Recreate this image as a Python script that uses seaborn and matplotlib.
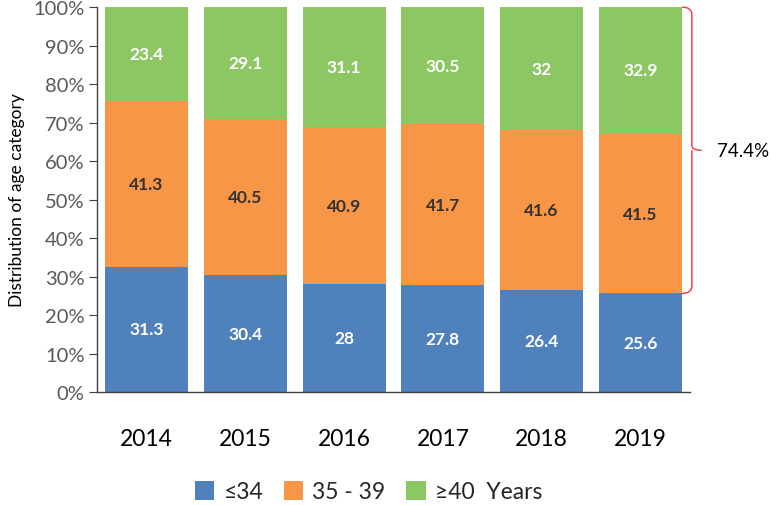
import matplotlib
matplotlib.use("Agg")
import matplotlib.pyplot as plt
import numpy as np
import pandas as pd
import seaborn as sns
from matplotlib.path import Path
from matplotlib.patches import PathPatch

years = ["2014", "2015", "2016", "2017", "2018", "2019"]
young = [31.3, 30.4, 28, 27.8, 26.4, 25.6]      # <=34
middle = [41.3, 40.5, 40.9, 41.7, 41.6, 41.5]   # 35 - 39
old = [23.4, 29.1, 31.1, 30.5, 32, 32.9]        # >=40
group_names = ["\u226434", "35 - 39", "\u226540  Years"]
colors = ["#4F81BD", "#F79646", "#8DC764"]
label_colors = ["white", "#333333", "white"]

sns.set_style("white")
plt.rcParams["font.family"] = ["Lato", "DejaVu Sans"]

df = pd.DataFrame({"year": years, "young": young, "middle": middle, "old": old})
cols = ["young", "middle", "old"]
total = df[cols].sum(axis=1)
share = df[cols].div(total, axis=0) * 100
cum = share.cumsum(axis=1)

fig = plt.figure(figsize=(7.71, 5.06), dpi=100)
ax = fig.add_axes([0.1258, 0.2233, 0.769, 0.7607])

# draw from the top stack down so lower layers sit in front
for i in [2, 1, 0]:
    sns.barplot(x=df["year"], y=cum[cols[i]], color=colors[i], width=0.84,
                saturation=1, ax=ax, label=group_names[i], linewidth=0,
                edgecolor=colors[i])

for j in range(len(years)):
    for i, c in enumerate(cols):
        mid = cum[c].iloc[j] - share[c].iloc[j] / 2
        v = df[c].iloc[j]
        ax.text(j, mid, f"{v:g}", ha="center", va="center", fontsize=12.5,
                fontweight="bold", color=label_colors[i])

ax.set_ylim(0, 100)
ax.set_xlim(-0.5, len(years) - 0.5)
ax.set_yticks(np.arange(0, 101, 10))
ax.set_yticklabels([f"{t}%" for t in range(0, 101, 10)], fontsize=14.5, color="#595959")
ax.set_ylabel("Distribution of age category", fontsize=12.5, color="black", labelpad=6)
ax.set_xlabel("")
ax.set_xticks(range(len(years)))
ax.set_xticklabels(years, fontsize=16.5, color="black")
ax.tick_params(axis="x", length=0, pad=26)
ax.set_xticks(np.arange(-0.5, len(years), 1), minor=True)
ax.tick_params(axis="x", which="minor", length=8, direction="out", color="#404040")
ax.tick_params(axis="y", length=6, direction="out", color="#404040", left=True, pad=3)
for s in ["top", "right"]:
    ax.spines[s].set_visible(False)
for s in ["left", "bottom"]:
    ax.spines[s].set_color("#404040")
    ax.spines[s].set_linewidth(1)
if ax.get_legend() is not None:
    ax.get_legend().remove()

# brace on the right side of the last bar
lo = cum["young"].iloc[-1]
hi = 100.0
x0, xv, x1 = 5.42, 5.52, 5.62
midy = (lo + hi) / 2
verts = [(x0, hi), (xv, hi), (xv, hi - 2.0),
         (xv, midy + 1.2), (xv, midy), (x1, midy),
         (xv, midy), (xv, midy - 1.2),
         (xv, lo + 2.0), (xv, lo), (x0, lo)]
codes = [Path.MOVETO, Path.CURVE3, Path.CURVE3, Path.LINETO, Path.CURVE3, Path.CURVE3,
         Path.MOVETO, Path.LINETO, Path.LINETO, Path.CURVE3, Path.CURVE3]
brace = PathPatch(Path(verts, codes), fill=False, edgecolor="#E8383D", lw=1.0, clip_on=False)
ax.add_patch(brace)
upper = df["middle"].iloc[-1] + df["old"].iloc[-1]
ax.text(5.77, midy, f"{upper:.1f}%", ha="left", va="center", fontsize=13.5, color="black")

handles, labels = ax.get_legend_handles_labels()
order = [labels.index(n) for n in group_names]
fig.legend([handles[k] for k in order], [labels[k] for k in order],
           loc="center", bbox_to_anchor=(0.478, 0.026), ncol=3, frameon=False,
           fontsize=16.5, handlelength=0.85, handleheight=0.85, handletextpad=0.4,
           columnspacing=0.9)

fig.savefig("out.png", dpi=100)
